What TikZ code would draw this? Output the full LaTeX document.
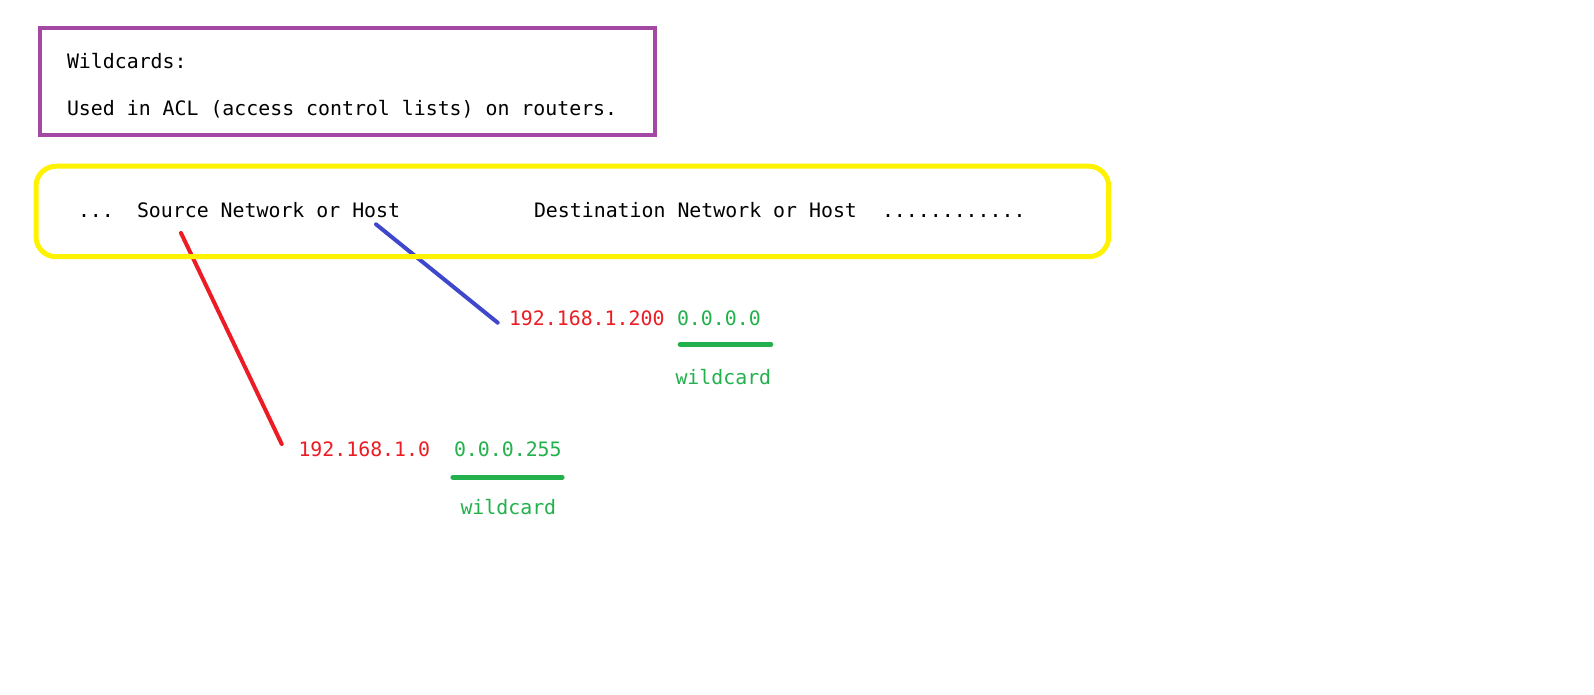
\documentclass[tikz,border=0pt]{standalone}
\usepackage{fontspec}
\setmonofont{DejaVu Sans Mono}
\definecolor{pred}{HTML}{ED1C24}
\definecolor{pgreen}{HTML}{22B14C}
\definecolor{pblue}{HTML}{3F48CC}
\definecolor{ppurple}{HTML}{A349A4}
\definecolor{pyellow}{HTML}{FFF200}
\begin{document}
\begin{tikzpicture}[x=0.75pt,y=-0.75pt,
  txt/.style={anchor=base west,inner sep=0pt,outer sep=0pt,font=\ttfamily\fontsize{14.9}{18}\selectfont},
  link/.style={line width=3pt,line cap=round},
  uline/.style={line width=3.4pt,line cap=round,pgreen}]
\useasboundingbox[fill=white] (0,0) rectangle (1594,694);
% header box
\draw[ppurple,line width=3pt] (39.6,28.4) rectangle (654.7,135.2);
\node[txt] (t1) at (67,68) {Wildcards:};
\node[txt] (t2) at (67,115.5) {Used in ACL (access control lists) on routers.};
% connectors (under the yellow frame)
\coordinate (r1) at (181,233);
\coordinate (r2) at (281.7,444);
\coordinate (b1) at (376,224.3);
\coordinate (b2) at (497.7,322.7);
\draw[link,pred] (r1) -- (r2);
\draw[link,pblue] (b1) -- (b2);
% yellow frame
\draw[pyellow,line width=3.75pt,rounded corners=15pt] (36,166.2) rectangle (1108.7,256.7);
\node[txt] (d1) at (78,217) {...};
\node[txt] (src) at (137,217) {Source Network or Host};
\node[txt] (dst) at (534,217) {Destination Network or Host};
\node[txt] (d2) at (882,217) {............};
% destination host
\node[txt,text=pred] (ip1) at (509,325) {192.168.1.200};
\node[txt,text=pgreen] (wc1) at (677,325) {0.0.0.0};
\coordinate (u1a) at (680,344.3);
\coordinate (u1b) at (771,344.3);
\draw[uline] (u1a) -- (u1b);
\node[txt,text=pgreen] (w1) at (675.5,384) {wildcard};
% source network
\node[txt,text=pred] (ip2) at (298.5,456.7) {192.168.1.0};
\node[txt,text=pgreen] (wc2) at (454,456.7) {0.0.0.255};
\coordinate (u2a) at (452.7,477.3);
\coordinate (u2b) at (562.3,477.3);
\draw[uline] (u2a) -- (u2b);
\node[txt,text=pgreen] (w2) at (460.5,514) {wildcard};
\end{tikzpicture}
\end{document}
